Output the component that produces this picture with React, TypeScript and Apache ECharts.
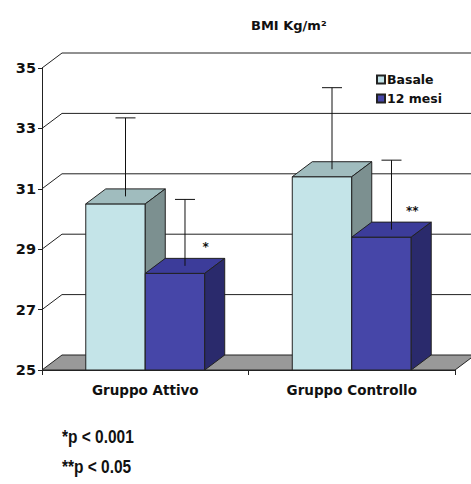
import React, { useEffect, useRef } from "react";
import * as echarts from "echarts";

const categories = ["Gruppo Attivo", "Gruppo Controllo"];
const basale = [30.5, 31.4];
const basaleErrTop = [33.1, 34.1];
const mesi12 = [28.2, 29.4];
const mesi12ErrTop = [30.4, 31.7];
const mesi12Marks = ["*", "**"];
const yTicks = [25, 27, 29, 31, 33, 35];
const footnotes = ["*p < 0.001", "**p < 0.05"];

const DX = 20;
const DY = -15;
const AX = 25;

const FONT = "DejaVu Sans, Verdana, sans-serif";
const NARROW = "Liberation Sans, Arial, sans-serif";

function makeBarRender(side: 0 | 1, colors: { front: string; top: string; side: string }, marks: string[] | null) {
  return (params: any, api: any) => {
    const cat = api.value(0);
    const v = api.value(1);
    const err = api.value(2);
    const c = api.coord([cat, v]);
    const base = api.coord([cat, AX]);
    const e = api.coord([cat, err]);
    const band = api.size([1, 0])[0];
    const w = band * 0.288;
    const x0 = side === 0 ? c[0] - w : c[0];
    const x1 = x0 + w;
    const yt = c[1];
    const yb = base[1];
    const stroke = "#222";
    const ex = (x0 + x1) / 2 + DX / 2;
    const children: any[] = [
      {
        type: "polygon",
        shape: { points: [[x0, yt], [x1, yt], [x1, yb], [x0, yb]] },
        style: { fill: colors.front, stroke, lineWidth: 1 },
      },
      {
        type: "polygon",
        shape: { points: [[x0, yt], [x1, yt], [x1 + DX, yt + DY], [x0 + DX, yt + DY]] },
        style: { fill: colors.top, stroke, lineWidth: 1 },
      },
      {
        type: "polygon",
        shape: { points: [[x1, yt], [x1 + DX, yt + DY], [x1 + DX, yb + DY], [x1, yb]] },
        style: { fill: colors.side, stroke, lineWidth: 1 },
      },
      {
        type: "line",
        shape: { x1: ex, y1: yt + DY / 2, x2: ex, y2: e[1] + DY / 2 },
        style: { stroke: "#111", lineWidth: 1 },
      },
      {
        type: "line",
        shape: { x1: ex - 10, y1: e[1] + DY / 2, x2: ex + 10, y2: e[1] + DY / 2 },
        style: { stroke: "#111", lineWidth: 1 },
      },
    ];
    if (marks && marks[params.dataIndex]) {
      children.push({
        type: "text",
        style: {
          text: marks[params.dataIndex],
          x: x1 + 1,
          y: yt - 26,
          align: "center",
          verticalAlign: "middle",
          font: `bold 12px ${FONT}`,
          fill: "#111",
        },
      });
    }
    return { type: "group", children };
  };
}

export default function App() {
  const ref = useRef<HTMLDivElement>(null);
  useEffect(() => {
    if (!ref.current) return;
    const chart = echarts.init(ref.current, undefined, { renderer: "svg" });
    const option: any = {
      animation: false,
      backgroundColor: "#ffffff",
      title: {
        text: "BMI Kg/m²",
        left: 246,
        top: 14,
        textStyle: { fontFamily: FONT, fontWeight: "bold", fontSize: 13, color: "#111" },
      },
      legend: {
        orient: "vertical",
        left: 371,
        top: 68,
        itemWidth: 8,
        itemHeight: 8,
        itemGap: 6,
        icon: "rect",
        data: ["Basale", "12 mesi"],
        textStyle: { fontFamily: FONT, fontWeight: "bold", fontSize: 12.5, color: "#111", padding: [0, 0, 0, -3] },
      },
      grid: { left: 42, right: 16, top: 68, bottom: 114 },
      xAxis: {
        type: "category",
        data: categories,
        axisLine: { show: true, lineStyle: { color: "#222", width: 1 } },
        axisTick: { show: true, length: 5, lineStyle: { color: "#222" } },
        axisLabel: { fontFamily: FONT, fontWeight: "bold", fontSize: 13.5, color: "#111", margin: 13 },
        splitLine: { show: false },
      },
      yAxis: {
        type: "value",
        min: 25,
        max: 35,
        interval: 2,
        axisLine: { show: true, lineStyle: { color: "#222", width: 1 } },
        axisTick: { show: true, length: 4, lineStyle: { color: "#222" } },
        axisLabel: { fontFamily: FONT, fontWeight: "bold", fontSize: 14.5, color: "#111", margin: 6 },
        splitLine: { show: false },
      },
      graphic: footnotes.map((t, i) => ({
        type: "text",
        x: 62,
        y: 428 + i * 30,
        scaleX: 0.86,
        style: { text: t, font: `bold 18px ${NARROW}`, fill: "#111" },
      })),
      series: [
        {
          type: "custom",
          name: "walls",
          silent: true,
          z: 1,
          data: yTicks.map((v) => [0, v]),
          renderItem: (params: any, api: any) => {
            const v = api.value(1);
            const band = api.size([1, 0])[0];
            const p0 = api.coord([0, v]);
            const p1 = api.coord([categories.length - 1, v]);
            const xl = p0[0] - band / 2;
            const xr = p1[0] + band / 2;
            const y = p0[1];
            if (v === AX) {
              return {
                type: "polygon",
                shape: { points: [[xl, y], [xr, y], [xr + DX, y + DY], [xl + DX, y + DY]] },
                style: { fill: "#999999", stroke: "#222", lineWidth: 1 },
              };
            }
            return {
              type: "polyline",
              shape: { points: [[xl, y], [xl + DX, y + DY], [500, y + DY]] },
              style: { stroke: "#222", lineWidth: 1, fill: "none" },
            };
          },
        },
        {
          type: "custom",
          name: "Basale",
          z: 2,
          itemStyle: { color: "#C4E4E8", borderColor: "#222", borderWidth: 1 },
          data: basale.map((v, i) => [i, v, basaleErrTop[i]]),
          renderItem: makeBarRender(0, { front: "#C4E4E8", top: "#A0BCBE", side: "#7C9090" }, null),
        },
        {
          type: "custom",
          name: "12 mesi",
          z: 3,
          itemStyle: { color: "#4646A8", borderColor: "#222", borderWidth: 1 },
          data: mesi12.map((v, i) => [i, v, mesi12ErrTop[i]]),
          renderItem: makeBarRender(1, { front: "#4646A8", top: "#3C3C9A", side: "#2A2A6C" }, mesi12Marks),
        },
      ],
    };
    chart.setOption(option);
    return () => chart.dispose();
  }, []);
  return (
    <div
      ref={ref}
      style={{ position: "absolute", left: 0, top: 0, width: 471, height: 484 }}
    />
  );
}
